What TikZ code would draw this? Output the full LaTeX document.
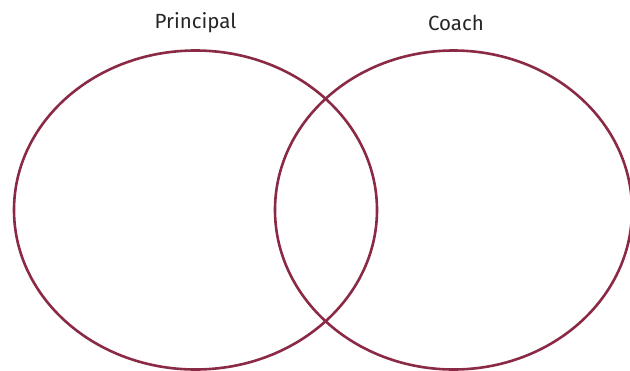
\documentclass[tikz,border=0pt]{standalone}
\usepackage{fontspec}
\setmainfont{Fira Sans}
\definecolor{vennred}{HTML}{8B2A45}
\begin{document}
\begin{tikzpicture}[x=1pt,y=-1pt,
  ring/.style={draw=vennred,line width=2.6pt},
  title/.style={font=\fontsize{20.5}{22}\selectfont,text=black!85}]
\useasboundingbox (0,0) rectangle (630,370);
\draw[ring] (195.5,210) ellipse [x radius=181.5, y radius=159.5];
\draw[ring] (453.5,210) ellipse [x radius=178.5, y radius=159.5];
\node[title] (principal) at (195.5,22.5) {Principal};
\node[title] (coach) at (456,22.5) {Coach};
\end{tikzpicture}
\end{document}
